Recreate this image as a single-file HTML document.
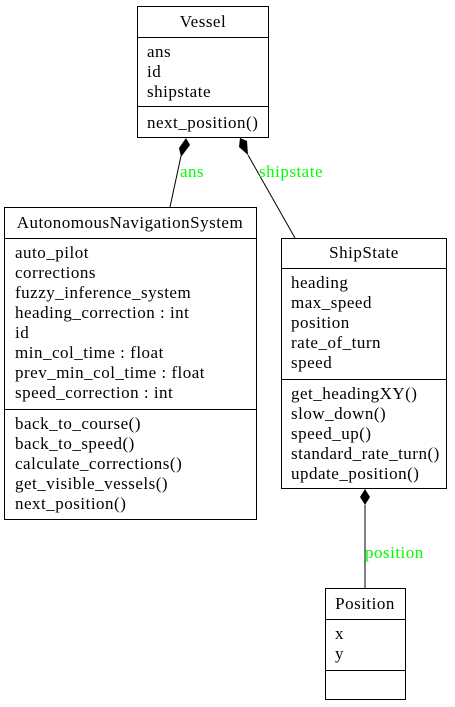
<!DOCTYPE html>
<html><head><meta charset="utf-8"><style>
html,body{margin:0;padding:0;background:#fff;}
svg{display:block;}
text{font-family:"Liberation Serif",serif;font-size:17px;letter-spacing:0.5px;fill:#000;}
.g{fill:#00ff00;}
</style></head><body>
<svg width="455" height="707" viewBox="0 0 455 707" xmlns="http://www.w3.org/2000/svg">
<g fill="none" stroke="#000" stroke-width="1">
<rect x="137.5" y="6.5" width="131" height="131"/>
<line x1="137.5" y1="37.5" x2="268.5" y2="37.5"/>
<line x1="137.5" y1="106.5" x2="268.5" y2="106.5"/>
<rect x="4.5" y="207.5" width="252" height="312"/>
<line x1="4.5" y1="238.5" x2="256.5" y2="238.5"/>
<line x1="4.5" y1="409.5" x2="256.5" y2="409.5"/>
<rect x="281.5" y="238.5" width="165" height="250"/>
<line x1="281.5" y1="268.5" x2="446.5" y2="268.5"/>
<line x1="281.5" y1="379.5" x2="446.5" y2="379.5"/>
<rect x="325.5" y="588.5" width="80" height="111"/>
<line x1="325.5" y1="619.5" x2="405.5" y2="619.5"/>
<line x1="325.5" y1="670.5" x2="405.5" y2="670.5"/>
<line x1="181" y1="156" x2="170" y2="207"/>
<line x1="248" y1="155" x2="295" y2="238"/>
<line x1="365" y1="505" x2="365" y2="588"/>
</g>
<polygon points="186,138 190,145 181,157 179,148" fill="#000"/>
<polygon points="240,138 247,141 248,155 239,147" fill="#000"/>
<polygon points="365,489 370,497 365,505 360,497" fill="#000"/>
<text x="203" y="27" text-anchor="middle">Vessel</text>
<text x="147" y="57">ans</text><text x="147" y="77">id</text><text x="147" y="97">shipstate</text>
<text x="147" y="128">next_position()</text>
<text x="130" y="228" text-anchor="middle">AutonomousNavigationSystem</text>
<text x="15" y="258">auto_pilot</text><text x="15" y="278">corrections</text><text x="15" y="298">fuzzy_inference_system</text><text x="15" y="318">heading_correction : int</text><text x="15" y="338">id</text><text x="15" y="358">min_col_time : float</text><text x="15" y="378">prev_min_col_time : float</text><text x="15" y="398">speed_correction : int</text>
<text x="15" y="429">back_to_course()</text><text x="15" y="449">back_to_speed()</text><text x="15" y="469">calculate_corrections()</text><text x="15" y="489">get_visible_vessels()</text><text x="15" y="509">next_position()</text>
<text x="364" y="258" text-anchor="middle">ShipState</text>
<text x="291" y="288">heading</text><text x="291" y="308">max_speed</text><text x="291" y="328">position</text><text x="291" y="348">rate_of_turn</text><text x="291" y="368">speed</text>
<text x="291" y="399">get_headingXY()</text><text x="291" y="419">slow_down()</text><text x="291" y="439">speed_up()</text><text x="291" y="459">standard_rate_turn()</text><text x="291" y="479">update_position()</text>
<text x="365" y="609" text-anchor="middle">Position</text>
<text x="335" y="639">x</text><text x="335" y="659">y</text>
<text class="g" x="180" y="177">ans</text>
<text class="g" x="259" y="177">shipstate</text>
<text class="g" x="365" y="558">position</text>
</svg>
</body></html>
